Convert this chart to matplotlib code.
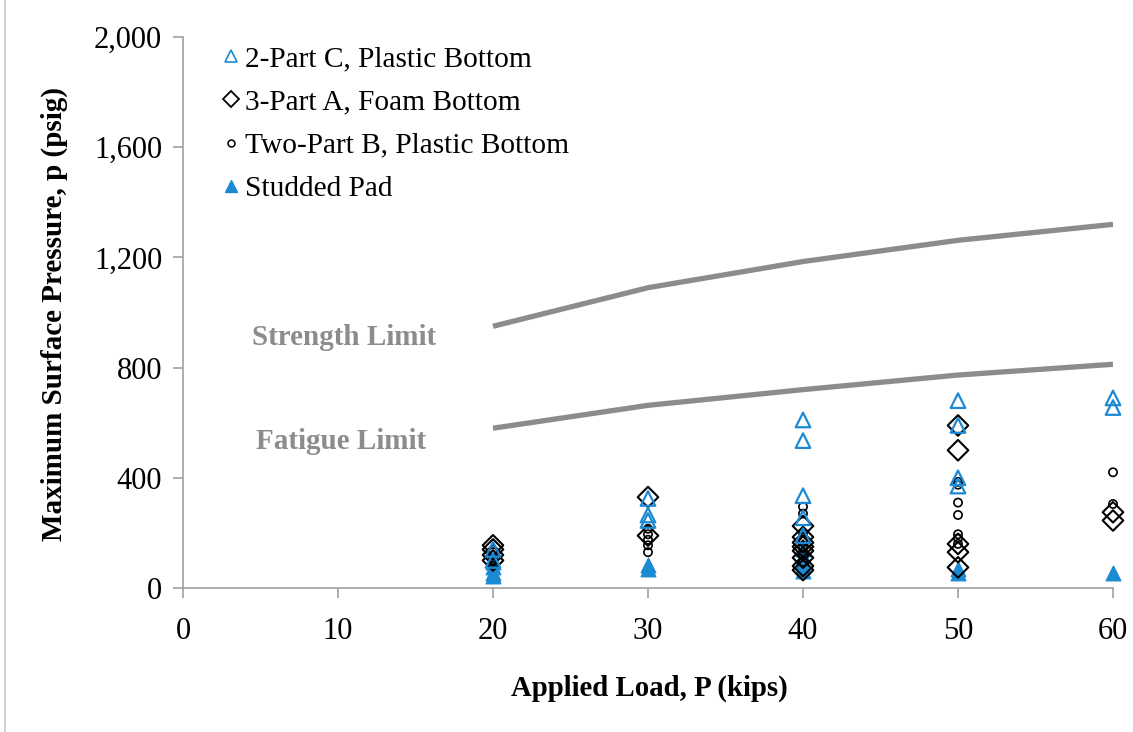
import matplotlib
matplotlib.use("Agg")
import matplotlib.pyplot as plt
from matplotlib.lines import Line2D

plt.rcParams['font.family'] = ['Liberation Serif', 'DejaVu Serif']

# --- limit curves ---
load_limits = [20, 30, 40, 50, 60]
strength_limit = [950, 1090, 1185, 1262, 1320]
fatigue_limit = [580, 663, 720, 773, 812]

# --- 2-Part C, Plastic Bottom (open triangles) ---
c_x = [20, 20, 30, 30, 30, 40, 40, 40, 40, 40, 50, 50, 50, 50, 60, 60]
c_y = [140, 100, 325, 265, 245, 610, 535, 335, 255, 190, 680, 590, 400, 370, 690, 655]

# --- 3-Part A, Foam Bottom (open diamonds) ---
a_x = [20, 20, 20, 20, 30, 30, 40, 40, 40, 40, 40, 40, 40, 40, 50, 50, 50, 50, 50, 60, 60]
a_y = [155, 140, 120, 100, 330, 190, 225, 185, 165, 150, 135, 110, 80, 65, 590, 500, 160, 130, 75, 275, 245]

# --- Two-Part B, Plastic Bottom (small open circles) ---
b_x = [20, 20, 20, 30, 30, 30, 30, 30, 40, 40, 40, 40, 40, 40, 40, 50, 50, 50, 50, 50, 50, 50, 60, 60]
b_y = [130, 110, 95, 215, 195, 175, 155, 130, 295, 270, 200, 175, 150, 120, 95, 385, 375, 310, 265, 195, 180, 160, 420, 305]

# --- Studded Pad (filled triangles) ---
s_x = [20, 20, 20, 20, 30, 30, 40, 40, 40, 40, 40, 50, 50, 60]
s_y = [95, 75, 55, 45, 85, 70, 140, 115, 95, 80, 60, 70, 55, 55]

BLUE = "#1b8ad3"
GRAY = "#8c8c8c"

fig = plt.figure(figsize=(11.33, 7.32), dpi=100)
ax = fig.add_axes([183 / 1133, 1 - 588 / 732, (1113 - 183) / 1133, (588 - 37) / 732])

ax.plot(load_limits, strength_limit, color=GRAY, lw=3.8, solid_capstyle="butt", zorder=1)
ax.plot(load_limits, fatigue_limit, color=GRAY, lw=3.8, solid_capstyle="butt", zorder=1)

ax.scatter(s_x, s_y, marker="^", s=110, color=BLUE, zorder=2, clip_on=False)
ax.scatter(a_x, a_y, marker="D", s=110, facecolors="none", edgecolors="black", linewidths=1.5, zorder=3, clip_on=False)
ax.scatter(b_x, b_y, marker="o", s=35, facecolors="none", edgecolors="black", linewidths=1.2, zorder=4, clip_on=False)
ax.scatter(c_x, c_y, marker="^", s=110, facecolors="none", edgecolors=BLUE, linewidths=1.6, zorder=5, clip_on=False)

ax.text(10.4, 911, "Strength Limit", color=GRAY, fontsize=21, fontweight="bold", ha="center", va="center")
ax.text(10.2, 530, "Fatigue Limit", color=GRAY, fontsize=21, fontweight="bold", ha="center", va="center")

ax.set_xlim(0, 60)
ax.set_ylim(0, 2000)
ax.set_xticks(range(0, 61, 10))
ax.set_yticks(range(0, 2001, 400))
ax.set_yticklabels([f"{v:,}" for v in range(0, 2001, 400)])
ax.tick_params(axis="both", labelsize=22, color="#a0a0a0", length=7, width=1.2)
ax.tick_params(axis="x", pad=14)
ax.tick_params(axis="y", pad=8)
for side in ["top", "right"]:
    ax.spines[side].set_visible(False)
for side in ["left", "bottom"]:
    ax.spines[side].set_color("#a0a0a0")
    ax.spines[side].set_linewidth(1.2)

ax.set_xlabel("Applied Load, P (kips)", fontsize=20.7, fontweight="bold")
ax.xaxis.set_label_coords(0.502, -0.157)
ax.set_ylabel("Maximum Surface Pressure, p (psig)", fontsize=21, fontweight="bold")
ax.yaxis.set_label_coords(-0.124, 0.497)

handles = [
    Line2D([], [], ls="none", marker="^", ms=8, mfc="none", mec=BLUE, mew=1.2),
    Line2D([], [], ls="none", marker="D", ms=8, mfc="none", mec="black", mew=1.3),
    Line2D([], [], ls="none", marker="o", ms=5, mfc="none", mec="black", mew=1.1),
    Line2D([], [], ls="none", marker="^", ms=9, mfc=BLUE, mec=BLUE),
]
labels = ["2-Part C, Plastic Bottom", "3-Part A, Foam Bottom",
          "Two-Part B, Plastic Bottom", "Studded Pad"]
ax.legend(handles, labels, loc="upper left", bbox_to_anchor=(0.029, 1.005), frameon=False,
          fontsize=21.2, handlelength=0.6, handletextpad=0.2, labelspacing=0.56, borderaxespad=0)

fig.add_artist(Line2D([5 / 1133, 5 / 1133], [0, 1], color="#c8c8c8", lw=1.2))

fig.savefig("out.png", dpi=100)
